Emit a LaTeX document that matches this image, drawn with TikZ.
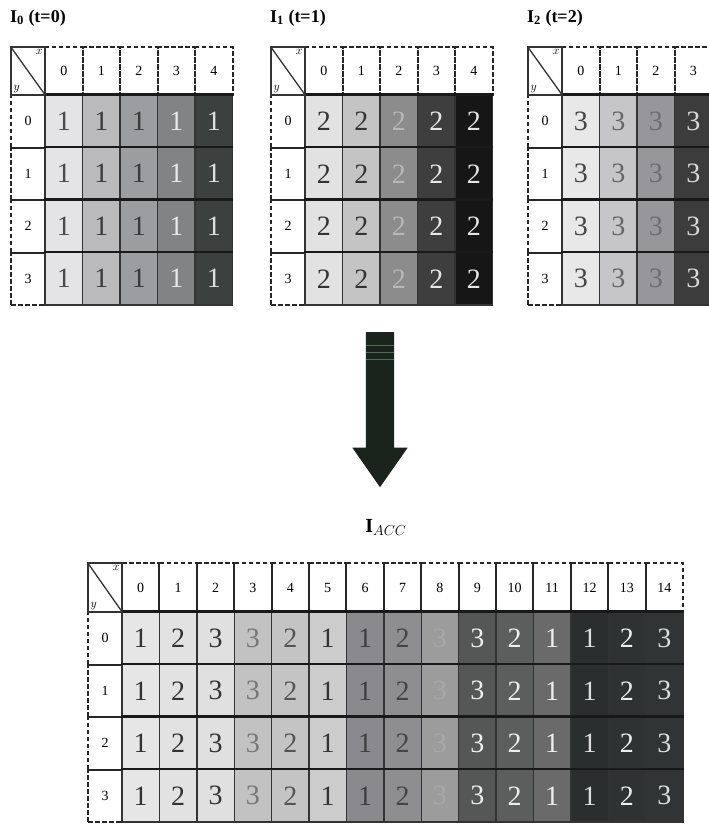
\documentclass[tikz,border=0pt]{standalone}
\usepackage{fontspec}
\setmainfont{Liberation Serif}
\usepackage{xcolor}
\usepackage{tikz}
\usetikzlibrary{shapes.arrows}

% Cores das grades de entrada
\definecolor{f00}{HTML}{E4E4E6}\definecolor{t00}{HTML}{4A4A4A}
\definecolor{f01}{HTML}{BABABC}\definecolor{t01}{HTML}{3A3A3A}
\definecolor{f02}{HTML}{9C9DA0}\definecolor{t02}{HTML}{3A3A3A}
\definecolor{f03}{HTML}{828385}\definecolor{t03}{HTML}{E8E8E8}
\definecolor{f04}{HTML}{3C403F}\definecolor{t04}{HTML}{E0E0E0}
\definecolor{f10}{HTML}{E2E2E2}\definecolor{t10}{HTML}{333333}
\definecolor{f11}{HTML}{C4C4C4}\definecolor{t11}{HTML}{333333}
\definecolor{f12}{HTML}{8C8C8C}\definecolor{t12}{HTML}{B8B8B8}
\definecolor{f13}{HTML}{3E3E3E}\definecolor{t13}{HTML}{E6E6E6}
\definecolor{f14}{HTML}{161616}\definecolor{t14}{HTML}{E6E6E6}
\definecolor{f20}{HTML}{E8E8E8}\definecolor{t20}{HTML}{444444}
\definecolor{f21}{HTML}{C6C6C8}\definecolor{t21}{HTML}{666666}
\definecolor{f22}{HTML}{97979B}\definecolor{t22}{HTML}{6E6E6E}
\definecolor{f23}{HTML}{3C3C3C}\definecolor{t23}{HTML}{D8D8D8}
% Cores da grade acumulada
\definecolor{g0}{HTML}{E6E6E6}\definecolor{h0}{HTML}{333333}
\definecolor{g1}{HTML}{E2E2E2}\definecolor{h1}{HTML}{333333}
\definecolor{g2}{HTML}{E0E0E0}\definecolor{h2}{HTML}{333333}
\definecolor{g3}{HTML}{C2C2C2}\definecolor{h3}{HTML}{777777}
\definecolor{g4}{HTML}{C4C4C4}\definecolor{h4}{HTML}{555555}
\definecolor{g5}{HTML}{CCCCCC}\definecolor{h5}{HTML}{333333}
\definecolor{g6}{HTML}{8A8A8E}\definecolor{h6}{HTML}{3E3E3E}
\definecolor{g7}{HTML}{8E8E90}\definecolor{h7}{HTML}{444444}
\definecolor{g8}{HTML}{9C9C9C}\definecolor{h8}{HTML}{A8A8A8}
\definecolor{g9}{HTML}{555757}\definecolor{h9}{HTML}{EEEEEE}
\definecolor{g10}{HTML}{5C5E5E}\definecolor{h10}{HTML}{EEEEEE}
\definecolor{g11}{HTML}{6A6A6A}\definecolor{h11}{HTML}{EEEEEE}
\definecolor{g12}{HTML}{2A2E2E}\definecolor{h12}{HTML}{DDDDDD}
\definecolor{g13}{HTML}{2E3232}\definecolor{h13}{HTML}{EEEEEE}
\definecolor{g14}{HTML}{303434}\definecolor{h14}{HTML}{DDDDDD}
\definecolor{seta}{HTML}{1B241C}
\definecolor{faixa}{HTML}{4E6E50}

\tikzset{
    dado/.style={draw=black!80, line width=1.4pt, inner sep=0pt,
        minimum height=52.5pt, font=\fontsize{28}{28}\selectfont},
    rotulo/.style={draw=black!85, line width=2pt, dash pattern=on 4.5pt off 2.5pt,
        inner sep=0pt, font=\fontsize{14}{14}\selectfont},
    canto/.style={draw=black!80, line width=1.3pt, minimum width=34pt, inner sep=0pt},
    eixo/.style={inner sep=3pt, font=\fontsize{12}{12}\selectfont},
    linha/.style={black!90, line width=2.6pt},
    titulo/.style={anchor=west, inner sep=0pt, font=\fontsize{18}{18}\selectfont}
}

\begin{document}
\begin{tikzpicture}[x=1pt,y=-1pt]
    \useasboundingbox (0,0) rectangle (709,825);
    \clip (0,0) rectangle (709,825);

    % Grades de entrada
    \foreach \g/\gx/\v/\nc in {0/45/1/4, 1/305/2/4, 2/562/3/3} {
        \node[titulo] (tit\g) at (\gx-35,18) {\textbf{I\textsubscript{\g} (t=\g)}};
        \foreach \c in {0,...,\nc}
            \node[rotulo, minimum width=37.5pt, minimum height=48pt] (h\g-\c) at (\gx+37.5*\c+18.75,71) {\c};
        \foreach \r in {0,...,3}
            \node[rotulo, minimum width=34pt, minimum height=52.5pt] (l\g-\r) at (\gx-17,121.25+52.5*\r) {\r};
        \foreach \r in {0,...,3}
            \foreach \c in {0,...,\nc}
                \node[dado, minimum width=37.5pt, fill=f\g\c, text=t\g\c] (a\g-\r-\c) at (\gx+37.5*\c+18.75,121.25+52.5*\r) {\v};
        \foreach \r in {0,...,3}
            \draw[linha] (a\g-\r-0.north west) -- (a\g-\r-\nc.north east);
        \node[canto, minimum height=48pt] (k\g) at (\gx-17,71) {};
        \draw[black!80, line width=1.3pt] (k\g.north west) -- (k\g.south east);
        \node[eixo, anchor=north east] (kx\g) at (k\g.north east) {$x$};
        \node[eixo, anchor=south west] (ky\g) at (k\g.south west) {$y$};
    }

    % Seta
    \node[single arrow, rotate=-90, anchor=tail, fill=seta, inner xsep=0pt, inner ysep=14pt,
        minimum height=155pt, minimum width=55pt, single arrow head extend=13.5pt,
        single arrow tip angle=70] (seta) at (380,332) {};
    \draw[faixa, line width=1pt] (366,345) -- (394,345);
    \draw[faixa, line width=1pt] (366,352) -- (394,352);
    \draw[faixa, line width=0.8pt] (366,359) -- (394,359);
    \node[font=\fontsize{20}{20}\selectfont] (acc) at (386,527) {\textbf{I}$_{ACC}$};

    % Grade acumulada
    \foreach \c in {0,...,14}
        \node[rotulo, minimum width=37.4pt, minimum height=49pt] (hb-\c) at (140.7+37.4*\c,587.5) {\c};
    \foreach \r in {0,...,3}
        \node[rotulo, minimum width=34pt, minimum height=52.5pt] (lb-\r) at (105,638.25+52.5*\r) {\r};
    \foreach \c/\v in {0/1,1/2,2/3,3/3,4/2,5/1,6/1,7/2,8/3,9/3,10/2,11/1,12/1,13/2,14/3}
        \foreach \r in {0,...,3}
            \node[dado, minimum width=37.4pt, fill=g\c, text=h\c] (b-\r-\c) at (140.7+37.4*\c,638.25+52.5*\r) {\v};
    \foreach \r in {0,...,3}
        \draw[linha] (b-\r-0.north west) -- (b-\r-14.north east);
    \node[canto, minimum height=49pt] (kb) at (105,587.5) {};
    \draw[black!80, line width=1.3pt] (kb.north west) -- (kb.south east);
    \node[eixo, anchor=north east] (kxb) at (kb.north east) {$x$};
    \node[eixo, anchor=south west] (kyb) at (kb.south west) {$y$};
\end{tikzpicture}
\end{document}
